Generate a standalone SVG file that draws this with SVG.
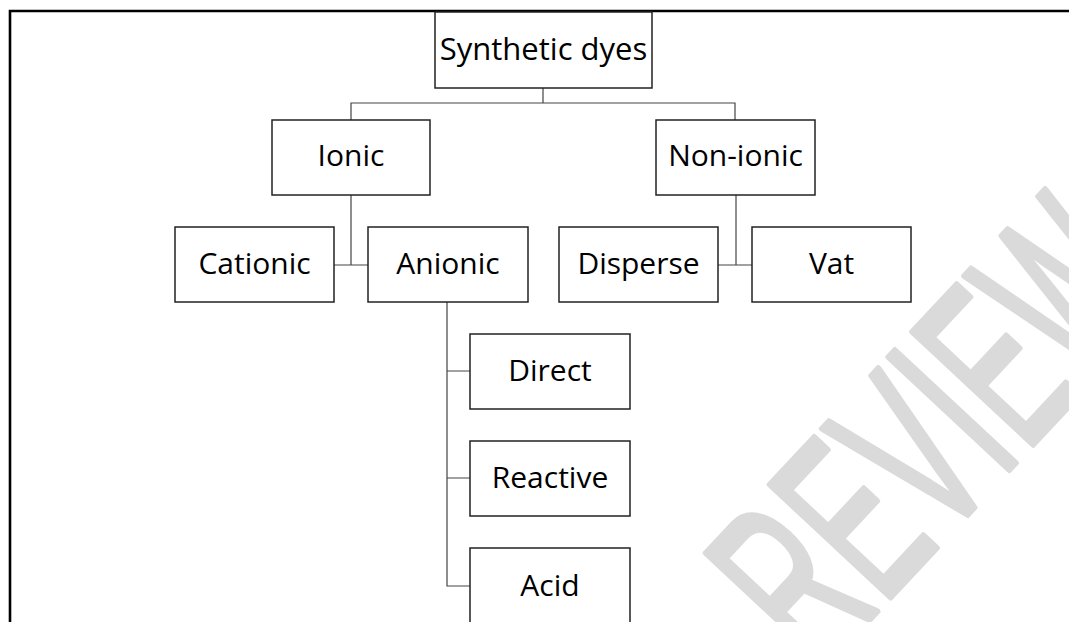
<svg xmlns="http://www.w3.org/2000/svg" width="1069" height="622" viewBox="0 0 1069 622">
<style>
.box{fill:#fff;stroke:#222;stroke-width:1.5}
.lbl{font-family:"Open Sans","Liberation Sans",sans-serif;font-size:30px;fill:#000;text-anchor:middle}
.con{fill:none;stroke:#444;stroke-width:1.2}
.wm{font-family:"Liberation Sans",Arial,sans-serif;font-size:240px;fill:#dadada;stroke:#dadada;stroke-width:6;stroke-linejoin:round}
</style>
<rect x="0" y="0" width="1069" height="622" fill="#fff"/>
<g id="watermark">
<text class="wm" transform="translate(818.6,674.5) rotate(-47) scale(0.54,1)" x="0" y="0">REVIEW</text>
</g>
<path d="M10,622 V11 H1069" fill="none" stroke="#000" stroke-width="2.6"/>
<g id="connectors">
<path class="con" d="M543,88 V103 M351,120 V103 H735 V120"/>
<path class="con" d="M351,195 V265 M334,265 H368"/>
<path class="con" d="M736,195 V265 M718,265 H752"/>
<path class="con" d="M447,302 V586 H470 M447,371 H470 M447,478 H470"/>
</g>
<g id="synthetic"><rect class="box" x="435" y="12" width="217" height="76"/><text class="lbl" x="543.5" y="60" style="font-size:31px">Synthetic dyes</text></g>
<g id="ionic"><rect class="box" x="272" y="120" width="158" height="75"/><text class="lbl" x="351" y="166">Ionic</text></g>
<g id="nonionic"><rect class="box" x="656" y="120" width="159" height="75"/><text class="lbl" x="735.5" y="166">Non-ionic</text></g>
<g id="cationic"><rect class="box" x="175" y="227" width="159" height="75"/><text class="lbl" x="254.5" y="274">Cationic</text></g>
<g id="anionic"><rect class="box" x="368" y="227" width="160" height="75"/><text class="lbl" x="448" y="274">Anionic</text></g>
<g id="disperse"><rect class="box" x="559" y="227" width="159" height="75"/><text class="lbl" x="638.5" y="274">Disperse</text></g>
<g id="vat"><rect class="box" x="752" y="227" width="159" height="75"/><text class="lbl" x="831.5" y="274">Vat</text></g>
<g id="direct"><rect class="box" x="470" y="334" width="160" height="75"/><text class="lbl" x="550" y="381">Direct</text></g>
<g id="reactive"><rect class="box" x="470" y="441" width="160" height="75"/><text class="lbl" x="550" y="488">Reactive</text></g>
<g id="acid"><rect class="box" x="470" y="548" width="160" height="90"/><text class="lbl" x="550" y="596">Acid</text></g>
</svg>
